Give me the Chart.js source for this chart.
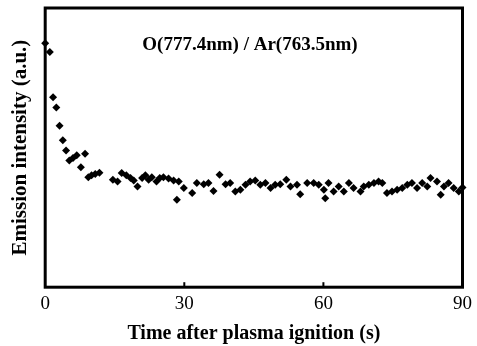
<!DOCTYPE html>
<html lang="en">

<head>
  <meta charset="UTF-8">
  <title>Emission ratio</title>
  <style>
    body { margin: 0; background: #fff; }
    #wrap { width: 477px; height: 346px; }
  </style>
</head>

<body>
  <div id="wrap"><canvas id="scatter" width="477" height="346"></canvas></div>

  <script src="https://cdn.jsdelivr.net/npm/chart.js"></script>
  <script>
    // time after ignition (s)
    const timeS = [
      0.0, 1.0, 1.7, 2.4, 3.1, 3.8, 4.5, 5.2, 6.0, 6.8, 7.7, 8.6, 9.3, 10.0, 10.8, 11.7,
      14.6, 15.6, 16.5, 17.5, 18.4, 19.1, 19.9, 20.9, 21.6, 22.3, 23.0, 24.0, 24.7,
      25.5, 26.6, 27.7, 28.4, 28.8, 29.9, 31.7, 32.7, 34.2, 35.2, 36.3, 37.6, 38.9, 39.9,
      41.0, 42.1, 43.2, 44.2, 45.3, 46.4, 47.5, 48.6, 49.6, 50.7, 52.0, 52.9, 54.3, 55.0, 56.5,
      57.9, 59.0, 60.1, 60.4, 61.1, 62.2, 63.3, 64.4, 65.5, 66.5, 68.0, 68.7, 69.8, 70.9,
      71.9, 72.7, 73.7, 74.8, 75.9, 77.0, 78.1, 79.1, 80.2, 81.3, 82.4, 83.1, 84.5, 85.3,
      86.0, 87.0, 88.1, 89.2, 90.0
    ];

    // O/Ar emission intensity ratio (a.u.)
    const intensity = [
      87.4, 84.2, 68.0, 64.4, 57.8, 52.6, 49.0, 45.4, 46.3, 47.3, 43.0, 47.8, 39.4, 40.1, 40.5, 41.0,
      38.5, 37.9, 40.9, 40.1, 39.1, 38.2, 36.1, 39.1, 40.1, 38.5, 39.4, 37.9, 39.1,
      39.4, 38.9, 38.2, 31.3, 37.9, 35.5, 33.7, 37.3, 36.9, 37.3, 34.5, 40.3, 36.9, 37.3,
      34.3, 34.9, 36.7, 37.9, 38.2, 36.7, 37.3, 35.5, 36.7, 36.9, 38.5, 36.1, 36.7, 33.3, 37.3,
      37.3, 36.7, 34.9, 31.9, 37.3, 34.3, 36.1, 34.3, 37.3, 35.5, 34.3, 36.1, 36.7, 37.3,
      37.9, 37.3, 33.7, 34.3, 34.9, 35.5, 36.7, 37.3, 35.5, 37.3, 36.1, 39.1, 37.9, 33.1,
      36.1, 37.3, 35.5, 34.3, 35.7
    ];

    const xTicks = [0, 30, 60, 90];
    const ratioLabel = "O(777.4nm) / Ar(763.5nm)";

    const serif = "'Liberation Serif', 'Times New Roman', serif";

    // frame, inward ticks and the in-plot label
    const framePlugin = {
      id: "frame",
      afterDraw(chart) {
        const { ctx, chartArea } = chart;
        const xs = chart.scales.x;
        ctx.save();
        ctx.strokeStyle = "#000";
        ctx.lineWidth = 3;
        ctx.strokeRect(chartArea.left, chartArea.top, chartArea.right - chartArea.left, chartArea.bottom - chartArea.top);
        ctx.lineWidth = 2;
        xTicks.slice(1, -1).forEach(v => {
          const px = xs.getPixelForValue(v);
          ctx.beginPath();
          ctx.moveTo(px, chartArea.bottom);
          ctx.lineTo(px, chartArea.bottom - 5);
          ctx.stroke();
        });
        ctx.fillStyle = "#000";
        ctx.font = "bold 19px " + serif;
        ctx.textAlign = "center";
        ctx.textBaseline = "middle";
        ctx.fillText(ratioLabel, 250, 45);
        ctx.restore();
      }
    };

    new Chart(document.getElementById("scatter"), {
      type: "scatter",
      data: {
        datasets: [{
          data: timeS.map((t, i) => ({ x: t, y: intensity[i] })),
          pointStyle: "rectRot",
          pointRadius: 4,
          pointHoverRadius: 4,
          backgroundColor: "#000",
          borderColor: "#000",
          borderWidth: 0,
          clip: false
        }]
      },
      options: {
        responsive: false,
        animation: false,
        layout: { padding: { left: 8, right: 10, top: 8, bottom: 0 } },
        plugins: { legend: { display: false }, tooltip: { enabled: false } },
        scales: {
          x: {
            type: "linear",
            min: 0,
            max: 90,
            afterBuildTicks: axis => { axis.ticks = xTicks.map(v => ({ value: v })); },
            grid: { display: false, drawTicks: false },
            border: { display: false },
            ticks: { color: "#000", padding: 5, font: { family: serif, size: 19 } },
            title: {
              display: true,
              text: "Time after plasma ignition (s)",
              color: "#000",
              font: { family: serif, size: 20, weight: "bold" },
              padding: { top: 2, bottom: 0 }
            }
          },
          y: {
            min: 0,
            max: 100,
            grid: { display: false, drawTicks: false },
            border: { display: false },
            ticks: { display: false },
            title: {
              display: true,
              text: "Emission intensity (a.u.)",
              color: "#000",
              font: { family: serif, size: 21, weight: "bold" },
              padding: { top: 0, bottom: 12 }
            }
          }
        }
      },
      plugins: [framePlugin]
    });
  </script>
</body>

</html>
